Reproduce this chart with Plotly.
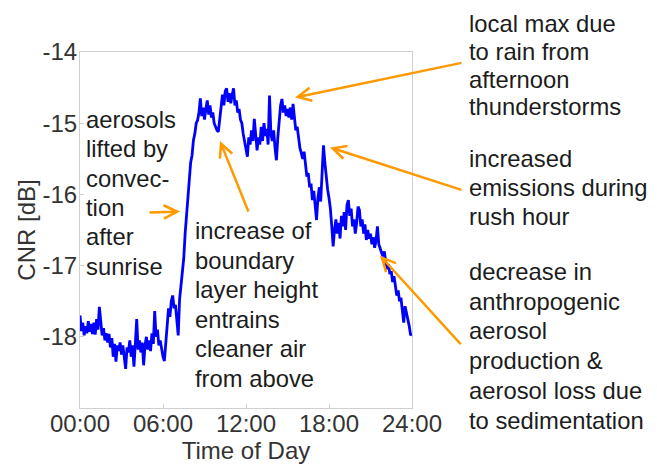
import plotly.graph_objects as go

# Time of day in hours (0.1 h steps)
hours = [round(i * 0.1, 1) for i in range(241)]

# CNR values [dB], hour by hour (10 samples per hour) + final point
cnr_h00 = [-17.70, -17.92, -17.80, -17.98, -17.85, -17.95, -17.78, -17.93, -17.82, -17.96]
cnr_h01 = [-17.80, -17.97, -17.75, -17.90, -17.58, -17.85, -17.98, -17.88, -18.05, -17.95]
cnr_h02 = [-18.08, -17.96, -18.15, -18.02, -18.28, -18.10, -18.35, -18.12, -18.20, -18.08]
cnr_h03 = [-18.25, -18.12, -18.30, -18.45, -18.15, -18.22, -18.05, -18.28, -18.12, -18.42]
cnr_h04 = [-18.10, -17.75, -18.18, -18.05, -18.22, -18.08, -18.40, -18.12, -18.00, -18.18]
cnr_h05 = [-18.05, -18.20, -17.95, -18.10, -17.64, -18.00, -17.90, -18.12, -18.05, -18.20]
cnr_h06 = [-18.28, -18.34, -18.10, -17.85, -17.60, -17.72, -17.50, -17.42, -17.60, -17.55]
cnr_h07 = [-17.75, -17.98, -17.47, -17.30, -17.05, -16.90, -16.55, -16.26, -16.00, -15.75]
cnr_h08 = [-15.55, -15.45, -15.24, -15.15, -15.00, -14.96, -14.85, -14.65, -14.90, -14.78]
cnr_h09 = [-14.95, -14.80, -14.68, -14.88, -14.75, -14.92, -14.85, -15.00, -15.05, -15.10]
cnr_h10 = [-15.12, -14.95, -14.80, -14.60, -14.75, -14.55, -14.51, -14.70, -14.58, -14.72]
cnr_h11 = [-14.60, -14.51, -14.75, -14.68, -14.85, -14.80, -14.95, -15.00, -15.15, -15.25]
cnr_h12 = [-15.35, -15.47, -15.20, -15.30, -15.10, -15.25, -14.94, -15.15, -15.38, -15.20]
cnr_h13 = [-15.30, -15.05, -15.25, -15.00, -15.18, -15.08, -15.30, -14.61, -15.15, -15.25]
cnr_h14 = [-15.10, -15.35, -15.52, -15.20, -14.95, -14.75, -14.66, -14.85, -14.75, -14.90]
cnr_h15 = [-14.80, -14.92, -14.78, -14.95, -14.73, -14.95, -15.10, -15.05, -15.25, -15.35]
cnr_h16 = [-15.42, -15.50, -15.40, -15.62, -15.75, -15.70, -15.90, -15.85, -16.08, -15.95]
cnr_h17 = [-16.15, -16.36, -16.05, -15.90, -16.10, -15.70, -15.31, -15.55, -15.80, -15.93]
cnr_h18 = [-16.05, -16.20, -16.45, -16.73, -16.50, -16.35, -16.55, -16.40, -16.62, -16.30]
cnr_h19 = [-16.45, -16.25, -16.50, -16.15, -16.08, -16.30, -16.20, -16.45, -16.35, -16.55]
cnr_h20 = [-16.40, -16.17, -16.22, -16.45, -16.35, -16.55, -16.42, -16.64, -16.50, -16.62]
cnr_h21 = [-16.55, -16.70, -16.60, -16.75, -16.65, -16.45, -16.70, -16.78, -16.82, -16.87]
cnr_h22 = [-16.80, -16.95, -17.05, -16.98, -17.12, -17.08, -17.23, -17.15, -17.30, -17.42]
cnr_h23 = [-17.35, -17.50, -17.45, -17.60, -17.80, -17.57, -17.65, -17.75, -17.85, -17.98]
cnr_end = [-17.95]

cnr = (cnr_h00 + cnr_h01 + cnr_h02 + cnr_h03 + cnr_h04 + cnr_h05 + cnr_h06 + cnr_h07
       + cnr_h08 + cnr_h09 + cnr_h10 + cnr_h11 + cnr_h12 + cnr_h13 + cnr_h14 + cnr_h15
       + cnr_h16 + cnr_h17 + cnr_h18 + cnr_h19 + cnr_h20 + cnr_h21 + cnr_h22 + cnr_h23 + cnr_end)

x_tick_vals = [0, 6, 12, 18, 24]
x_tick_labels = ["00:00", "06:00", "12:00", "18:00", "24:00"]
y_tick_vals = [-18, -17, -16, -15, -14]
y_tick_labels = ["-18", "-17", "-16", "-15", "-14"]

note_sunrise = ["aerosols", "lifted by", "convec-", "tion", "after", "sunrise"]
note_boundary = ["increase of", "boundary", "layer height", "entrains", "cleaner air", "from above"]
note_rain = ["local max due", "to rain from", "afternoon", "thunderstorms"]
note_rush = ["increased", "emissions during", "rush hour"]
note_decrease = ["decrease in", "anthropogenic", "aerosol", "production &", "aerosol loss due",
                 "to sedimentation"]

FONT = "Liberation Sans, Helvetica, Arial, sans-serif"
ORANGE = "#FF9900"
TXT = "#1c1c1c"
AX_TXT = "#333333"
FS_TICK = 24
FS_NOTE = 23.8

# the page adds an 8 px body margin; layout is set in figure pixels
L, T, PW, PH = 72, 44, 332, 356
W, H = 657, 465

fig = go.Figure()
fig.add_trace(go.Scatter(x=hours, y=cnr, mode="lines",
                         line=dict(color="#0000FF", width=2.8), showlegend=False))

axis_common = dict(showline=True, mirror=True, linecolor="#cfcfcf", linewidth=1.2,
                   ticks="inside", ticklen=4, tickcolor="#cfcfcf", showgrid=False,
                   zeroline=False,
                   tickfont=dict(family=FONT, size=FS_TICK, color=AX_TXT))

fig.update_layout(
    width=W, height=H,
    margin=dict(l=L, r=W - L - PW, t=T, b=H - T - PH),
    paper_bgcolor="white", plot_bgcolor="white",
    font=dict(family=FONT, size=FS_TICK, color=TXT),
    xaxis=dict(range=[0, 24], tickvals=x_tick_vals, ticktext=x_tick_labels,
               ticklabelstandoff=-6,
               title=dict(text="Time of Day", font=dict(family=FONT, size=FS_TICK, color=AX_TXT),
                          standoff=0),
               **axis_common),
    yaxis=dict(range=[-19, -14], tickvals=y_tick_vals, ticktext=y_tick_labels,
               ticklabelstandoff=-3,
               title=dict(text="CNR [dB]", font=dict(family=FONT, size=FS_TICK, color=AX_TXT),
                          standoff=0),
               **axis_common),
)


def px_x(px):
    return (px - 8 - L) / PW


def px_y(py):
    return (T + PH - (py - 8)) / PH


# (lines, left edge page px, first line centre page px, line step px)
blocks = [
    (note_sunrise, 85, 119.5, 29.3),
    (note_boundary, 194, 230.5, 29.6),
    (note_rain, 468, 23.5, 27.8),
    (note_rush, 468, 158, 29.2),
    (note_decrease, 468, 271.5, 29.7),
]
for lines, px, py0, step in blocks:
    for i, line in enumerate(lines):
        fig.add_annotation(text=line, xref="paper", yref="paper", x=px_x(px), y=px_y(py0 + i * step),
                           xanchor="left", yanchor="middle", align="left", showarrow=False,
                           borderpad=0,
                           font=dict(family=FONT, size=FS_NOTE, color=TXT))

# arrows: head at (hour, dB), tail offset in pixels
arrows = [
    (7.23, -16.24, -32, 1),
    (10.12, -15.25, 29, 72),
    (15.54, -14.64, 168, -35),
    (18.07, -15.34, 133, 43),
    (21.69, -16.86, 82, 90),
]
for hx, hy, ax, ay in arrows:
    fig.add_annotation(x=hx, y=hy, xref="x", yref="y", ax=ax, ay=ay, text="",
                       showarrow=True, arrowhead=5, arrowsize=1.05, arrowwidth=2.5,
                       arrowcolor=ORANGE, standoff=0)

fig.write_html("out.html")
